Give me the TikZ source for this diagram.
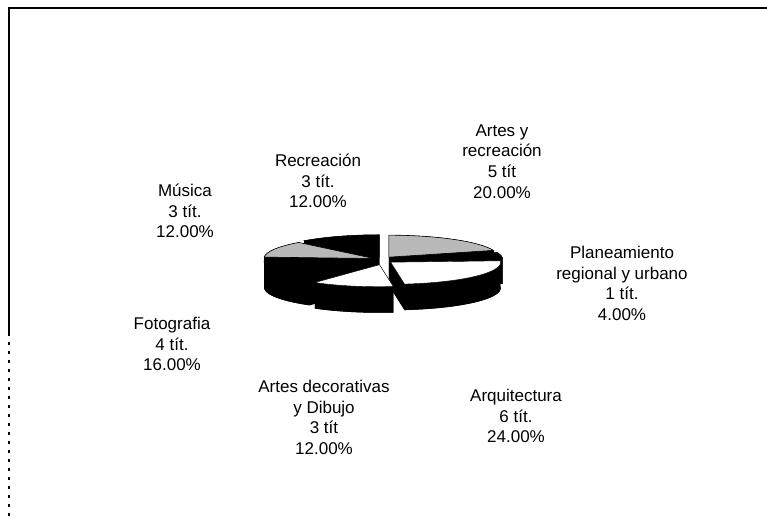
\documentclass[tikz,border=0pt]{standalone}
\usepackage{fontspec}
\setmainfont{Liberation Sans}
\newcommand\pslice[4]{%
 \pgfmathsetmacro\pmid{(#1+#2)/2}%
 \pgfmathsetmacro\ox{383+#3*cos(\pmid)}%
 \pgfmathsetmacro\oy{258+#3*0.35*sin(\pmid)}%
 \pgfmathsetmacro\xa{\ox+110*cos(#1)}\pgfmathsetmacro\ya{\oy+22*sin(#1)}%
 \pgfmathsetmacro\xb{\ox+110*cos(#2)}\pgfmathsetmacro\yb{\oy+22*sin(#2)}%
 \fill[black] (\ox,\oy-26) -- (\xa,\ya-26) arc[start angle=#1,end angle=#2,x radius=110,y radius=22] -- cycle;
 \fill[black] (\ox,\oy) -- (\xa,\ya) -- (\xa,\ya-26) -- (\ox,\oy-26) -- cycle;
 \fill[black] (\ox,\oy) -- (\xb,\yb) -- (\xb,\yb-26) -- (\ox,\oy-26) -- cycle;
 \fill[black] (\xa,\ya) arc[start angle=#1,end angle=#2,x radius=110,y radius=22] -- (\xb,\yb-26) arc[start angle=#2,end angle=#1,x radius=110,y radius=22] -- cycle;
 \draw[#4] (\ox,\oy) -- (\xa,\ya) arc[start angle=#1,end angle=#2,x radius=110,y radius=22] -- cycle;
}
\tikzset{
  lbl/.style={align=center,font=\fontsize{17}{20.8}\selectfont,inner sep=0pt},
  frame/.style={line width=1.4pt,black},
  dark/.style={fill=black,draw=black},
  light/.style={fill=white,draw=black},
  dotted top/.style={fill=gray!55,draw=black,line width=0.6pt}
}
\begin{document}
\begin{tikzpicture}[x=1pt,y=1pt]
\useasboundingbox (0,0) rectangle (767,518);
\fill[white] (0,0) rectangle (767,518);
% frame
\coordinate (f1) at (767,510);
\coordinate (f2) at (9,510);
\coordinate (f3) at (9,185);
\coordinate (f4) at (9,0);
\draw[frame] (f1) -- (f2) -- (f3);
\draw[frame,dash pattern=on 3pt off 6pt] (f3) -- (f4);
% pie (back to front)
\pslice{90}{133.2}{10}{dark}
\pslice{18}{90}{10}{dotted top}
\pslice{133.2}{176.4}{10}{dotted top}
\pslice{3.6}{18}{10}{dark}
\pslice{176.4}{234}{10}{dark}
\pslice{277.2}{363.6}{10}{light}
\pslice{234}{277.2}{14}{light}
% labels
\node[lbl] (rec) at (318,337) {Recreación\\3 tít.\\12.00\%};
\node[lbl] (ayr) at (502,356.5) {Artes y\\recreación\\5 tít\\20.00\%};
\node[lbl] (mus) at (185,307) {Música\\3 tít.\\12.00\%};
\node[lbl] (pla) at (622,234.5) {Planeamiento\\regional y urbano\\1 tít.\\4.00\%};
\node[lbl] (fot) at (172,174) {Fotografia\\4 tít.\\16.00\%};
\node[lbl] (ade) at (324,100.5) {Artes decorativas\\y Dibujo\\3 tít\\12.00\%};
\node[lbl] (arq) at (516,102) {Arquitectura\\6 tít.\\24.00\%};
\end{tikzpicture}
\end{document}
